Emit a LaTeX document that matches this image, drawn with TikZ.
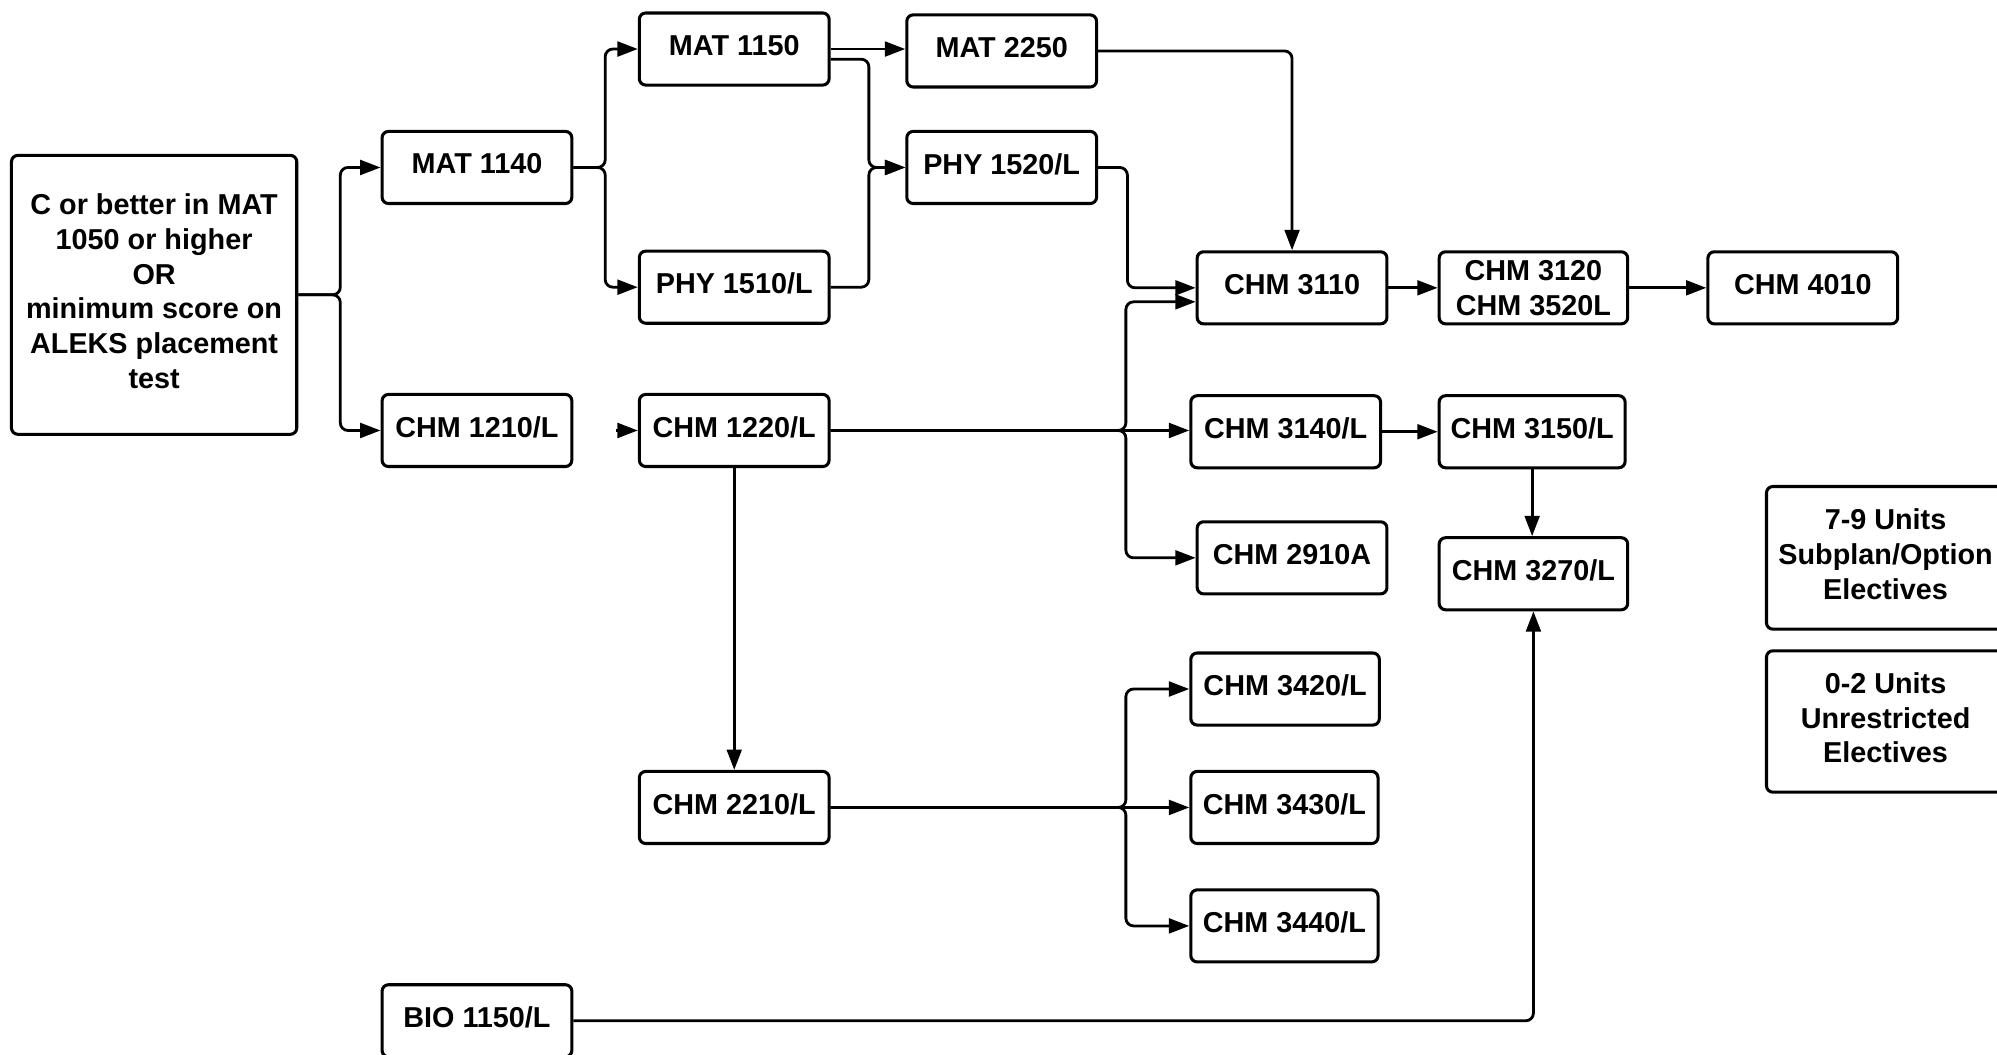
\documentclass[tikz,border=0pt]{standalone}
\usepackage{fontspec}
\setmainfont{Liberation Sans}
\usetikzlibrary{arrows.meta,calc}
\tikzset{
  box/.style={draw, line width=1.2pt, rounded corners=2.5pt, align=center, inner sep=0pt,
    font=\fontsize{11.3}{13.65}\selectfont\bfseries, minimum width=74.5pt, minimum height=28.3pt,
    text depth=3pt},
  arr/.style={line width=1.1pt, rounded corners=3pt, -{Triangle[length=8pt,width=5.8pt]}},
}
\begin{document}
\begin{tikzpicture}[x=0.5pt,y=-0.5pt]
\useasboundingbox (0,0) rectangle (1568,828);
\node[box, minimum width=112pt, minimum height=109.5pt] (start) at (121,231.5)
  {C or better in MAT\\1050 or higher\\OR\\minimum score on\\ALEKS placement\\test};
\node[box] (m1140) at (374.5,131.5) {MAT 1140};
\node[box] (c1210) at (374.5,338) {CHM 1210/L};
\node[box] (m1150) at (576.5,38.5) {MAT 1150};
\node[box] (p1510) at (576.5,225.5) {PHY 1510/L};
\node[box] (c1220) at (576.5,338) {CHM 1220/L};
\node[box] (c2210) at (576.5,634) {CHM 2210/L};
\node[box] (m2250) at (786.5,40) {MAT 2250};
\node[box] (p1520) at (786.5,131.5) {PHY 1520/L};
\node[box] (c3110) at (1014.5,226) {CHM 3110};
\node[box] (c3140) at (1009.5,339) {CHM 3140/L};
\node[box] (c2910) at (1014.5,438) {CHM 2910A};
\node[box, minimum width=74pt] (c3420) at (1009,541) {CHM 3420/L};
\node[box, minimum width=73.5pt] (c3430) at (1008.5,634) {CHM 3430/L};
\node[box, minimum width=73.5pt] (c3440) at (1008.5,727) {CHM 3440/L};
\node[box, minimum width=74pt, text depth=0pt] (c3120) at (1204,226) {CHM 3120\\CHM 3520L};
\node[box] (c4010) at (1415.5,226) {CHM 4010};
\node[box, minimum width=73pt] (c3150) at (1203,339) {CHM 3150/L};
\node[box, minimum width=74pt] (c3270) at (1204,450.5) {CHM 3270/L};
\node[box, minimum width=93.5pt, minimum height=56pt] (u79) at (1480.5,438) {7-9 Units\\Subplan/Option\\Electives};
\node[box, minimum width=93.5pt, minimum height=55.5pt] (u02) at (1480.5,566.5) {0-2 Units\\Unrestricted\\Electives};
\node[box] (bio) at (374.5,801.5) {BIO 1150/L};
\coordinate (j1) at (884,338);
\coordinate (j2) at (884,634);
% connectors
\draw[arr] (start.east) -- ++(33,0) |- (m1140.west);
\draw[arr] (start.east) -- ++(33,0) |- (c1210.west);
\draw[arr] (m1140.east) -- ++(25,0) |- (m1150.west);
\draw[arr] (m1140.east) -- ++(25,0) |- (p1510.west);
\draw[arr] ($(c1220.west)+(-17,0)$) -- (c1220.west);
\draw[arr] (m1150.east) -- (m1150.east -| m2250.west);
\draw[arr] ($(m1150.east)+(0,8)$) -- ++(30,0) |- (p1520.west);
\draw[arr] (p1510.east) -- ++(30,0) |- (p1520.west);
\draw[arr] (m2250.east) -| (c3110.north);
\draw[arr] (p1520.east) -- ++(23,0) |- (c3110.west);
\draw[arr] (c1220.east) -- (j1) |- ($(c3110.west)+(0,11)$);
\draw[arr] (c1220.east) -- (c1220.east -| c3140.west);
\draw[arr] (c1220.east) -- (j1) |- (c2910.west);
\draw[arr] (c1220.south) -- (c2210.north);
\draw[arr] (c2210.east) -- (j2) |- (c3420.west);
\draw[arr] (c2210.east) -- (c3430.west);
\draw[arr] (c2210.east) -- (j2) |- (c3440.west);
\draw[arr] (c3110.east) -- (c3120.west);
\draw[arr] (c3120.east) -- (c4010.west);
\draw[arr] (c3140.east) -- (c3150.west);
\draw[arr] (c3150.south) -- (c3150.south |- c3270.north);
\draw[arr] (bio.east) -| (c3270.south);
\end{tikzpicture}
\end{document}
